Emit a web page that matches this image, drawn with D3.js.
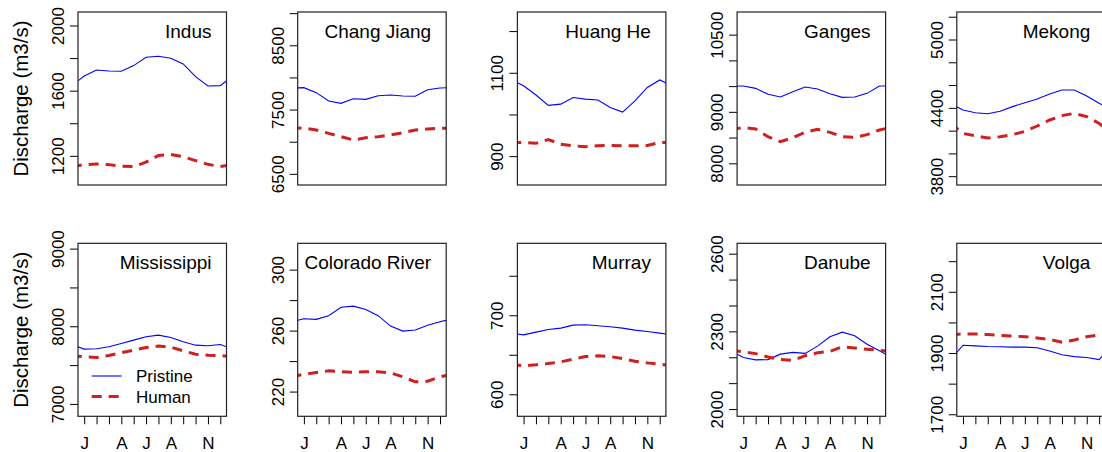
<!DOCTYPE html>
<html>
<head>
<meta charset="utf-8">
<script src="https://cdn.jsdelivr.net/npm/d3@7"></script>
<style>
    body { margin: 0; background: #fff; }
    text { font-family: "Liberation Sans", Arial, sans-serif; fill: #000; }
</style>
</head>
<body>
<div id="chart"></div>
<script>
// monthly discharge, pristine vs human, 10 rivers
var rivers = ["Indus", "Chang Jiang", "Huang He", "Ganges", "Mekong",
    "Mississippi", "Colorado River", "Murray", "Danube", "Volga"];

var monthLabels = ["J", "", "", "A", "", "J", "", "A", "", "", "N", ""];

var pristine = [
    [1693, 1730, 1724, 1722, 1757, 1808, 1814, 1802, 1767, 1689, 1632, 1634],
    [7849, 7771, 7641, 7605, 7677, 7667, 7724, 7734, 7719, 7714, 7817, 7843],
    [1070, 1048, 1023, 1026, 1042, 1038, 1036, 1018, 1007, 1034, 1066, 1084],
    [9512, 9466, 9350, 9298, 9402, 9492, 9453, 9363, 9291, 9298, 9369, 9512],
    [4385, 4362, 4353, 4374, 4415, 4450, 4482, 4526, 4561, 4561, 4508, 4444],
    [7712, 7716, 7742, 7785, 7828, 7871, 7892, 7862, 7806, 7763, 7755, 7772],
    [268.1, 267.7, 270.1, 275.6, 276.4, 274.2, 270.1, 263.3, 260.0, 260.7, 263.9, 266.1],
    [675.9, 679.3, 682.7, 684.4, 688.2, 688.6, 687.3, 686.1, 684.4, 681.8, 680.1, 678.0],
    [2201, 2192, 2193, 2214, 2221, 2217, 2245, 2281, 2299, 2285, 2252, 2227],
    [1927, 1925, 1923, 1922, 1921, 1921, 1919, 1908, 1896, 1890, 1887, 1880]
];

var human = [
    [1149, 1153, 1149, 1139, 1137, 1164, 1205, 1211, 1198, 1174, 1151, 1137],
    [7221, 7190, 7138, 7086, 7034, 7070, 7086, 7112, 7148, 7190, 7205, 7216],
    [934, 932, 941, 930, 926, 924, 926, 927, 926, 926, 927, 934],
    [8709, 8676, 8527, 8430, 8508, 8611, 8670, 8611, 8527, 8514, 8566, 8657],
    [4180, 4160, 4139, 4151, 4169, 4198, 4245, 4298, 4336, 4356, 4327, 4268],
    [7613, 7604, 7630, 7665, 7699, 7733, 7751, 7738, 7690, 7647, 7634, 7630],
    [231.7, 232.8, 233.9, 233.3, 233.0, 233.3, 233.3, 232.6, 230.0, 226.7, 227.1, 230.0],
    [636.6, 637.9, 639.6, 641.7, 645.0, 648.4, 649.3, 648.4, 645.9, 642.5, 640.4, 638.7],
    [2223, 2216, 2203, 2193, 2190, 2208, 2219, 2225, 2242, 2238, 2233, 2229],
    [1964, 1964, 1962, 1959, 1957, 1955, 1951, 1946, 1937, 1944, 1955, 1961]
];

var yDomains = [
    [1024, 2086], [6334, 9026], [832, 1247], [7588, 10950], [3727, 5246],
    [6847, 9075], [204.1, 317.6], [572.8, 791.7], [1974, 2642], [1695, 2260]
];

var yTicks = [
    [1200, 1400, 1600, 1800, 2000],
    [6500, 7000, 7500, 8000, 8500, 9000],
    [900, 1000, 1100, 1200],
    [8000, 8500, 9000, 9500, 10000, 10500],
    [3800, 4000, 4200, 4400, 4600, 4800, 5000, 5200],
    [7000, 7500, 8000, 8500, 9000],
    [220, 240, 260, 280, 300],
    [600, 650, 700, 750],
    [2000, 2100, 2200, 2300, 2400, 2500, 2600],
    [1700, 1800, 1900, 2000, 2100, 2200]
];

// only these get a label (the others are dropped for overlap)
var yLabels = [
    [1200, 1600, 2000],
    [6500, 7500, 8500],
    [900, 1100],
    [8000, 9000, 10500],
    [3800, 4400, 5000],
    [7000, 8000, 9000],
    [220, 260, 300],
    [600, 700],
    [2000, 2300, 2600],
    [1700, 1900, 2100]
];

(function () {
    var width = 1102,
        height = 452;
    var boxLeft = 78,
        colStep = 219.7,
        boxW = 148.5,
        boxH = 173,
        rowTop = [12, 243.3];

    var blue = "#0000ff",
        red = "#d01f1f";

    var svg = d3.select("#chart")
        .append("svg")
        .attr("width", width)
        .attr("height", height);

    var defs = svg.append("defs");

    var x = d3.scaleLinear().domain([0.5, 12.5]).range([0, boxW]);

    // wrap Dec before Jan and Jan after Dec, the box clips the ends
    function wrap(vals) {
        var pts = [{m: 0, v: vals[11]}];
        vals.forEach(function (v, i) {
            pts.push({m: i + 1, v: v});
        });
        pts.push({m: 13, v: vals[0]});
        return pts;
    }

    rivers.forEach(function (name, i) {
        var col = i % 5,
            row = Math.floor(i / 5);
        var g = svg.append("g")
            .attr("transform", "translate(" + (boxLeft + col * colStep) + "," + rowTop[row] + ")");

        var y = d3.scaleLinear().domain(yDomains[i]).range([boxH, 0]);

        defs.append("clipPath")
            .attr("id", "clip" + i)
            .append("rect")
            .attr("width", boxW)
            .attr("height", boxH);

        var line = d3.line()
            .x(function (d) { return x(d.m); })
            .y(function (d) { return y(d.v); });

        var plot = g.append("g").attr("clip-path", "url(#clip" + i + ")");

        plot.append("path")
            .datum(wrap(pristine[i]))
            .attr("d", line)
            .attr("fill", "none")
            .attr("stroke", blue)
            .attr("stroke-width", 1.1);

        plot.append("path")
            .datum(wrap(human[i]))
            .attr("d", line)
            .attr("fill", "none")
            .attr("stroke", red)
            .attr("stroke-width", 3)
            .attr("stroke-dasharray", "10,7");

        // y axis, labels parallel to the axis
        var yAxis = d3.axisLeft(y)
            .tickValues(yTicks[i])
            .tickSize(8)
            .tickFormat(function (d) {
                return yLabels[i].indexOf(d) >= 0 ? d : "";
            });
        var ya = g.append("g").call(yAxis);
        ya.select(".domain").remove();
        ya.selectAll("line").attr("stroke", "#000");
        ya.selectAll("text")
            .attr("x", null)
            .attr("dy", null)
            .attr("transform", function (d) {
                return "translate(-14," + y(d) + ") rotate(-90)";
            })
            .attr("y", 0)
            .attr("text-anchor", "middle")
            .style("font-size", "17px")
            .style("font-family", "'Liberation Sans', Arial, sans-serif");
        ya.selectAll(".tick").attr("transform", null);
        ya.selectAll(".tick line")
            .attr("y1", function (d) { return y(d); })
            .attr("y2", function (d) { return y(d); });

        if (row === 1) {
            var xAxis = d3.axisBottom(x)
                .tickValues(d3.range(1, 13))
                .tickSize(8)
                .tickPadding(13)
                .tickFormat(function (d) { return monthLabels[d - 1]; });
            var xa = g.append("g")
                .attr("transform", "translate(0," + boxH + ")")
                .call(xAxis);
            xa.select(".domain").remove();
            xa.selectAll("line").attr("stroke", "#000");
            xa.selectAll("text")
                .style("font-size", "17px")
                .style("font-family", "'Liberation Sans', Arial, sans-serif");
        }

        g.append("rect")
            .attr("width", boxW)
            .attr("height", boxH)
            .attr("fill", "none")
            .attr("stroke", "#222")
            .attr("stroke-width", 1.2);

        g.append("text")
            .attr("x", boxW - 15)
            .attr("y", 26)
            .attr("text-anchor", "end")
            .style("font-size", "19px")
            .text(name);

        if (col === 0) {
            svg.append("text")
                .attr("transform", "translate(28," + (rowTop[row] + boxH / 2) + ") rotate(-90)")
                .attr("text-anchor", "middle")
                .style("font-size", "20.5px")
                .text("Discharge (m3/s)");
        }

        // legend sits in the Mississippi panel
        if (i === 5) {
            var legend = g.append("g");
            var items = [
                {label: "Pristine", color: blue, w: 1.1, dash: null, yy: 132.7},
                {label: "Human", color: red, w: 3, dash: "10,7", yy: 153.3}
            ];
            items.forEach(function (d) {
                legend.append("line")
                    .attr("x1", 13.7)
                    .attr("x2", 43.7)
                    .attr("y1", d.yy)
                    .attr("y2", d.yy)
                    .attr("stroke", d.color)
                    .attr("stroke-width", d.w)
                    .attr("stroke-dasharray", d.dash);
                legend.append("text")
                    .attr("x", 58)
                    .attr("y", d.yy)
                    .attr("dy", "0.35em")
                    .style("font-size", "17px")
                    .text(d.label);
            });
        }
    });
})();
</script>
</body>
</html>
